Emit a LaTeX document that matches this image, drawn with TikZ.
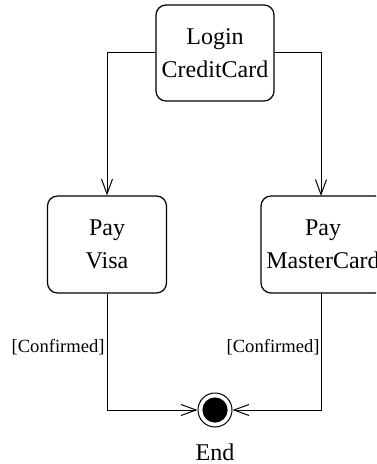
\documentclass[tikz,border=0pt]{standalone}
\usepackage{fontspec}
\setmainfont{Liberation Serif}
\usetikzlibrary{arrows.meta}
\begin{document}
\begin{tikzpicture}[x=0.5pt,y=-0.5pt,
  statebox/.style={draw, line width=0.6pt, rounded corners=5pt, align=center,
    inner sep=0pt, font=\fontsize{12}{16.5}\selectfont},
  conn/.style={line width=0.5pt, -{Straight Barb[length=7.5pt,width=5.5pt]}},
  guard/.style={font=\fontsize{9.3}{11}\selectfont, inner sep=0pt, anchor=east}]
\useasboundingbox (0,0) rectangle (376,464);
\begin{scope}
\clip (0,0) rectangle (376,464);
\node[statebox, minimum width=59pt, minimum height=48pt] (login) at (215,53) {Login\\CreditCard};
\node[statebox, minimum width=59.5pt, minimum height=48.5pt] (visa) at (107,244.5) {Pay\\Visa};
\node[statebox, minimum width=62pt, minimum height=48.5pt] (master) at (323,244.5) {Pay\\MasterCard};
\coordinate (mtop) at (321,196);
\coordinate (mbot) at (321,293);
\node[circle, draw, line width=0.5pt, minimum size=17pt, inner sep=0pt] (end) at (215,410) {};
\fill (end.center) circle (6.3pt);
\node[font=\fontsize{12}{14}\selectfont] (endlabel) at (215,452) {End};
\draw[conn] (login.west) -| (visa.north);
\draw[conn] (login.east) -| (mtop);
\draw[conn] (visa.south) |- (end.west);
\draw[conn] (mbot) |- (end.east);
\node[guard] (g1) at (105,347) {[Confirmed]};
\node[guard] (g2) at (320,347) {[Confirmed]};
\end{scope}
\end{tikzpicture}
\end{document}
